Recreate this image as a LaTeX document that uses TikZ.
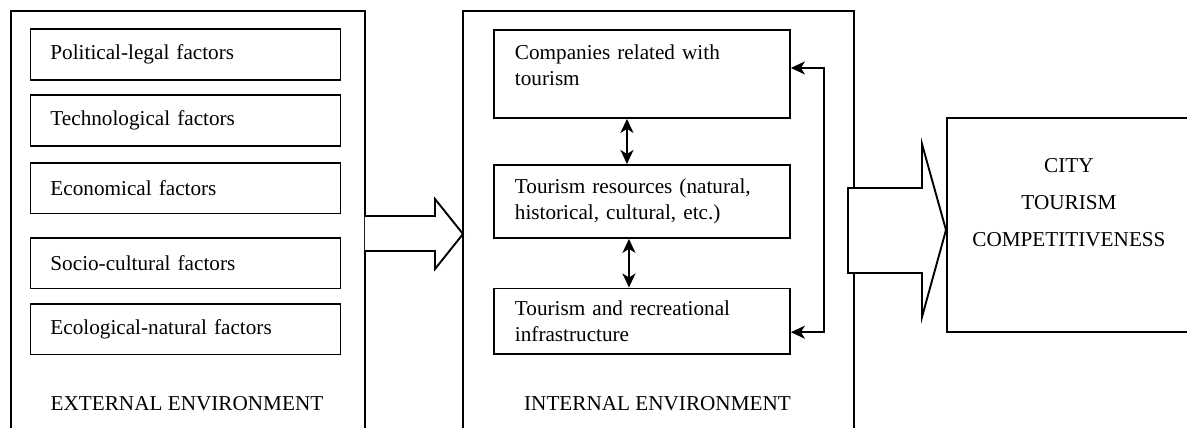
\documentclass[tikz,border=0pt]{standalone}
\usepackage{fontspec}
\setmainfont{Liberation Serif}
\usetikzlibrary{arrows.meta}

\begin{document}
\begin{tikzpicture}[x=1pt,y=-1pt,line width=1.9pt,line join=miter,
        font=\fontsize{21.2}{25.5}\selectfont,
        frame/.style={anchor=north west,inner sep=0pt,minimum height=420pt},
        factor/.style={draw,anchor=north west,minimum width=310pt,minimum height=50.5pt,
            inner xsep=20pt,text width=270pt,align=left},
        inbox/.style={draw,anchor=north west,minimum width=296pt,
            inner xsep=21pt,text width=254pt,align=left},
        link/.style={{Stealth[length=14pt,width=13pt,inset=4pt]}-{Stealth[length=14pt,width=13pt,inset=4pt]}},
        fat/.style={fill=white}]
    \useasboundingbox (0,0) rectangle (1187,428);

    % external environment
    \node[frame,minimum width=352pt] (ext) at (11,11) {};
    \draw (ext.south west) -- (ext.north west) -- (ext.north east) -- (ext.south east);
    \node[factor] (pol) at (29.5,28.5) {Political-legal factors};
    \node[factor] (tech) at (29.5,94.5) {Technological factors};
    \node[factor] (econ) at (29.5,162) {Economical factors};
    \node[factor] (soc) at (29.5,237) {Socio-cultural factors};
    \node[factor] (eco) at (29.5,303) {Ecological-natural factors};
    \node[anchor=base] (extlbl) at (187,410) {EXTERNAL ENVIRONMENT};

    % internal environment
    \node[frame,minimum width=389pt] (int) at (463,11) {};
    \draw (int.south west) -- (int.north west) -- (int.north east) -- (int.south east);
    \node[inbox,minimum height=88pt] (comp) at (493,29) {Companies related with\\tourism\\[-8pt]\mbox{}};
    \node[inbox,minimum height=73pt] (res) at (493,164) {Tourism resources (natural,\\historical, cultural, etc.)};
    \node[inbox,minimum height=65.5pt] (infra) at (493,287.5) {Tourism and recreational\\infrastructure};
    \node[anchor=base] (intlbl) at (657.5,410) {INTERNAL ENVIRONMENT};

    \draw[link] ([xshift=-15pt]comp.south) -- ([xshift=-15pt]res.north);
    \draw[link] ([xshift=-13pt]res.south) -- ([xshift=-13pt]infra.north);
    \draw[link] ([yshift=6pt]comp.east) -- ++(33,0) |- ([yshift=-11pt]infra.east);

    % result
    \node[draw,anchor=north west,minimum width=244pt,minimum height=214pt,align=center,
        font=\fontsize{21.2}{37}\selectfont] (city) at (946,117) {CITY\\TOURISM\\COMPETITIVENESS\\[8pt]\mbox{}};

    % big arrows
    \draw[fat] (ext.east |- 0,216) -- (435,216) -- (435,199) -- (int.west |- 0,234)
        -- (435,269) -- (435,251) -- (ext.east |- 0,251);
    \draw[fat] (848,188) -- (922,188) -- (922,144) -- (city.west |- 0,230)
        -- (922,317) -- (922,273) -- (848,273) -- cycle;
\end{tikzpicture}
\end{document}
